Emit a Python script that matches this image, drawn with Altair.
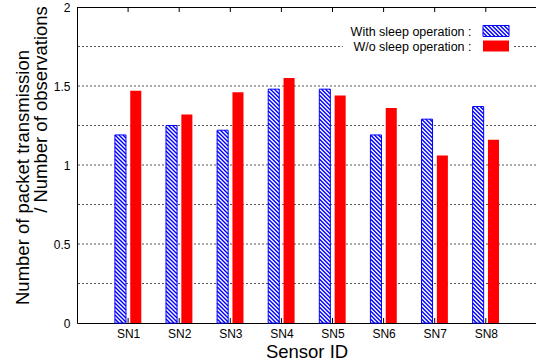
import altair as alt
import pandas as pd

# ---- data ----
sensors = ["SN1", "SN2", "SN3", "SN4", "SN5", "SN6", "SN7", "SN8"]
with_sleep = [1.19, 1.25, 1.22, 1.48, 1.48, 1.19, 1.29, 1.37]
wo_sleep = [1.47, 1.32, 1.46, 1.55, 1.44, 1.36, 1.06, 1.16]
y_tick_values = [0, 0.5, 1, 1.5, 2]
grid_values = [0.25, 0.5, 0.75, 1.0, 1.25, 1.5, 1.75]
series_names = ["With sleep operation :", "W/o sleep operation :"]
x_title = "Sensor ID"
y_title_lines = ["Number of packet transmission", "/ Number of observations"]

# ---- layout / style ----
W, H = 459, 316
STEP_PX = 51.1
X_MAX = W / STEP_PX
Y_MAX = 2.0
PX_X = W / X_MAX
PX_Y = H / Y_MAX
OFF = 0.15
HALF = 0.108
HATCH_P = 4.0 / PX_Y          # vertical spacing of hatch lines (data units)
RATIO = PX_X / PX_Y           # converts x-width into y-units for 45 deg
FONT = "Liberation Sans"
BLUE = "#0000ff"
RED = "#ff0000"

df = pd.DataFrame({
    "sensor": sensors,
    "pos": list(range(1, len(sensors) + 1)),
    "with": with_sleep,
    "wo": wo_sleep,
})

xscale = alt.Scale(domain=[0, X_MAX], nice=False, zero=False)
yscale = alt.Scale(domain=[0, Y_MAX], nice=False)

label_expr = "[" + ",".join("'%s'" % s for s in sensors) + "][datum.value - 1]"

XAXIS = alt.Axis(
    values=list(range(1, len(sensors) + 1)), labelExpr=label_expr,
    ticks=False, grid=False, domainColor="black", domainWidth=1,
    labelFont=FONT, labelFontSize=12, labelColor="black", labelPadding=5,
    title=x_title, titleFont=FONT, titleFontSize=18.5, titleFontWeight="normal",
    titleColor="black", titlePadding=3)
YAXIS = alt.Axis(
    values=y_tick_values, labelExpr="toString(datum.value)",
    ticks=False, grid=False, domainColor="black", domainWidth=1,
    labelFont=FONT, labelFontSize=12, labelColor="black", labelPadding=7,
    title=None)


def X(f):
    return alt.X(f, scale=xscale, axis=XAXIS)


def Y(f):
    return alt.Y(f, scale=yscale, axis=YAXIS)


base = alt.Chart(df)

# grid
grid = alt.Chart(pd.DataFrame({"g": grid_values})).mark_rule(
    color="#555555", strokeDash=[2, 2], strokeWidth=1
).encode(y=Y("g:Q"))

# red bars
red = base.transform_calculate(
    xl=f"datum.pos + {OFF} - {HALF}", xr=f"datum.pos + {OFF} + {HALF}"
).mark_rect(color=RED).encode(
    x=X("xl:Q"), x2="xr:Q", y=Y("wo:Q"), y2=alt.datum(0),
)

# blue hatched bars
blue_rects = base.transform_calculate(
    xl=f"datum.pos - {OFF} - {HALF}", xr=f"datum.pos - {OFF} + {HALF}",
    t="datum.with", b="0"
)


def hatch(chart):
    return chart.transform_calculate(
        hh=f"(datum.xr - datum.xl) * {RATIO}"
    ).transform_calculate(
        k=f"sequence(1, ceil((datum.t - datum.b + datum.hh) / {HATCH_P}))"
    ).transform_flatten(["k"]).transform_calculate(
        c=f"datum.b + datum.k * {HATCH_P}"
    ).transform_calculate(
        xs="datum.c > datum.t ? datum.xl + (datum.c - datum.t) / datum.hh * (datum.xr - datum.xl) : datum.xl",
        ys="min(datum.c, datum.t)",
        xe="datum.c - datum.hh < datum.b ? datum.xl + (datum.c - datum.b) / datum.hh * (datum.xr - datum.xl) : datum.xr",
        ye="max(datum.c - datum.hh, datum.b)",
    ).transform_filter("datum.xs < datum.xe").mark_rule(
        color=BLUE, strokeWidth=1.4
    ).encode(x=X("xs:Q"), x2="xe:Q", y=Y("ys:Q"), y2="ye:Q")


blue_fill = blue_rects.mark_rect(color="white").encode(
    x=X("xl:Q"), x2="xr:Q", y=Y("t:Q"), y2="b:Q")
blue_hatch = hatch(blue_rects)
blue_outline = blue_rects.mark_rect(filled=False, stroke=BLUE, strokeWidth=1).encode(
    x=X("xl:Q"), x2="xr:Q", y=Y("t:Q"), y2="b:Q")

# frame: top line and inward ticks
top_line = alt.Chart(pd.DataFrame({"a": [0]})).mark_rule(color="black", strokeWidth=1).encode(
    x=X("a:Q"), x2=alt.datum(X_MAX), y=alt.value(0.5))
tick_top = base.mark_rule(color="black", strokeWidth=1).encode(
    x=X("pos:Q"), y=alt.value(0), y2=alt.value(5))
tick_bot = base.mark_rule(color="black", strokeWidth=1).encode(
    x=X("pos:Q"), y=alt.value(H - 5), y2=alt.value(H))

# legend
leg_box = alt.Chart(pd.DataFrame({"a": [0]})).mark_rect(color="white").encode(
    x=alt.value(266), x2=alt.value(437), y=alt.value(11), y2=alt.value(50))
leg_text = []
for i, name in enumerate(series_names):
    leg_text.append(alt.Chart(pd.DataFrame({"t": [name]})).mark_text(
        align="right", baseline="middle", font=FONT, fontSize=12.5, color="black"
    ).encode(text="t:N", x=alt.value(394.5), y=alt.value(24.5 + 15 * i)))
red_sw = alt.Chart(pd.DataFrame({"a": [0]})).mark_rect(color=RED).encode(
    x=alt.value(406), x2=alt.value(432), y=alt.value(33.5), y2=alt.value(44.5))
sw = pd.DataFrame({
    "xl": [406 / PX_X], "xr": [432 / PX_X],
    "t": [Y_MAX - 18.5 / PX_Y], "b": [Y_MAX - 29.5 / PX_Y],
})
sw_base = alt.Chart(sw)
sw_fill = sw_base.mark_rect(color="white").encode(
    x=X("xl:Q"), x2="xr:Q", y=Y("t:Q"), y2="b:Q")
sw_hatch = hatch(sw_base)
sw_outline = sw_base.mark_rect(filled=False, stroke=BLUE, strokeWidth=1).encode(
    x=X("xl:Q"), x2="xr:Q", y=Y("t:Q"), y2="b:Q")

# y title lines
ytitle1 = alt.Chart(pd.DataFrame({"t": [y_title_lines[0]]})).mark_text(
    angle=270, align="center", baseline="middle", font=FONT, fontSize=18.5, color="black"
).encode(text="t:N", x=alt.value(-54), y=alt.value(170.5))
ytitle2 = alt.Chart(pd.DataFrame({"t": [y_title_lines[1]]})).mark_text(
    angle=270, align="center", baseline="middle", font=FONT, fontSize=18.5, color="black"
).encode(text="t:N", x=alt.value(-36), y=alt.value(102.5))

chart = alt.layer(
    grid, red, blue_fill, blue_hatch, blue_outline,
    top_line, tick_top, tick_bot,
    leg_box, *leg_text, red_sw, sw_fill, sw_hatch, sw_outline,
    ytitle1, ytitle2,
).properties(
    width=W, height=H,
    autosize=alt.AutoSizeParams(type="none"),
    padding={"left": 77, "top": 7, "right": 0, "bottom": 39},
    background="white",
).configure_view(strokeWidth=0)

chart.save("out.html", embed_options={"renderer": "svg", "actions": False})
